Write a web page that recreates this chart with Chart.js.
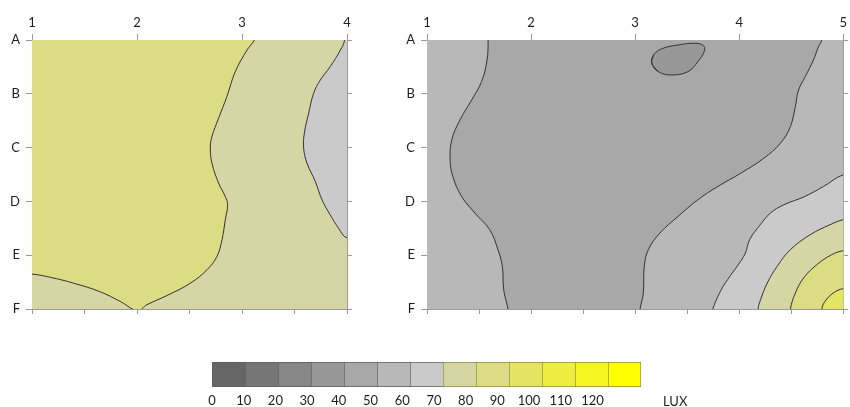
<!DOCTYPE html>
<html>
<head>
<meta charset="utf-8">
<script src="https://cdn.jsdelivr.net/npm/chart.js@4.4.1/dist/chart.umd.min.js"></script>
<style>
  body { margin: 0; background: #fff; width: 850px; height: 407px; position: relative; overflow: hidden; font-family: Lato, sans-serif; }
  canvas { position: absolute; }
  #leftChart { left: 0; top: 0; }
  #rightChart { left: 400px; top: 0; }
  #scaleChart { left: 190px; top: 350px; }
  #lux { position: absolute; left: 663px; top: 393px; font-size: 13px; color: #1e1e1e; }
</style>
</head>
<body>
<canvas id="leftChart" width="360" height="330"></canvas>
<canvas id="rightChart" width="450" height="330"></canvas>
<canvas id="scaleChart" width="520" height="57"></canvas>
<div id="lux">LUX</div>
<script>
// grid labels
const rowLabels = ['A', 'B', 'C', 'D', 'E', 'F'];
const leftCols = [1, 2, 3, 4];
const rightCols = [1, 2, 3, 4, 5];

// colour scale (lux)
const luxLevels = [0, 10, 20, 30, 40, 50, 60, 70, 80, 90, 100, 110, 120];
const luxColors = ['#666666', '#767676', '#878787', '#989898', '#a8a8a8', '#b8b8b8', '#cacaca',
                   '#d5d6a4', '#dcdc84', '#e4e463', '#eded42', '#f5f522', '#ffff00'];

// contour areas: [column, row] with row 0 = A ... 5 = F
// left room, base level 70
const leftBase = 70;
const left80 = [[3.17, -0.3], [3.117, 0], [3.048, 0.186], [2.936, 0.588], [2.856, 1.052], [2.777, 1.454],
  [2.714, 1.795], [2.698, 2.01], [2.714, 2.29], [2.777, 2.66], [2.841, 2.91], [2.863, 3.06], [2.841, 3.34],
  [2.81, 3.71], [2.762, 4.02], [2.667, 4.27], [2.508, 4.52], [2.285, 4.75], [2.095, 4.92], [2.006, 5.03],
  [1.841, 4.86], [1.65, 4.68], [1.396, 4.52], [1.174, 4.41], [1.0, 4.35], [0.7, 4.3], [0.7, -0.3]];
const left60 = [[3.96, -0.3], [3.976, 0], [3.937, 0.186], [3.84, 0.495], [3.746, 0.743], [3.682, 0.99],
  [3.635, 1.36], [3.594, 1.73], [3.587, 2.01], [3.619, 2.29], [3.698, 2.63], [3.762, 2.97], [3.84, 3.25],
  [3.92, 3.5], [4.0, 3.68], [4.3, 3.8], [4.3, -0.3]];

// right room, base level 50
const rightBase = 50;
const right40 = [[1.58, -0.3], [1.587, 0], [1.577, 0.371], [1.524, 0.774], [1.429, 1.114], [1.317, 1.485],
  [1.238, 1.856], [1.222, 2.228], [1.248, 2.537], [1.333, 2.909], [1.46, 3.217], [1.603, 3.527],
  [1.682, 3.898], [1.724, 4.208], [1.737, 4.641], [1.778, 5.0], [1.8, 5.3], [3.04, 5.3], [3.048, 5.0],
  [3.079, 4.703], [3.088, 4.208], [3.127, 3.898], [3.238, 3.589], [3.412, 3.28], [3.603, 2.97],
  [3.794, 2.723], [4.016, 2.475], [4.238, 2.196], [4.397, 1.918], [4.492, 1.609], [4.54, 1.238],
  [4.571, 0.928], [4.635, 0.681], [4.714, 0.371], [4.762, 0.124], [4.794, 0], [4.82, -0.3]];
// closed island: first and last points repeat so the outline is smooth all round
const right30 = [[3.222, 0.588], [3.16, 0.43], [3.18, 0.27], [3.26, 0.16], [3.412, 0.093], [3.571, 0.061],
  [3.655, 0.1], [3.667, 0.199], [3.603, 0.403], [3.508, 0.588], [3.349, 0.65], [3.222, 0.588],
  [3.16, 0.43], [3.18, 0.27]];
const right60 = [[5.3, 2.4], [5.0, 2.506], [4.81, 2.723], [4.63, 2.909], [4.43, 3.063], [4.3, 3.217],
  [4.19, 3.465], [4.1, 3.713], [4.06, 3.96], [3.99, 4.18], [3.89, 4.45], [3.82, 4.67], [3.746, 5.0],
  [3.7, 5.3], [5.3, 5.3]];
const right70 = [[5.3, 3.25], [5.0, 3.341], [4.873, 3.434], [4.682, 3.62], [4.492, 3.898], [4.365, 4.208],
  [4.27, 4.517], [4.206, 4.826], [4.181, 5.0], [4.17, 5.3], [5.3, 5.3]];
const right80 = [[5.3, 3.85], [5.0, 3.917], [4.889, 3.991], [4.746, 4.177], [4.619, 4.424], [4.54, 4.703],
  [4.492, 5.0], [4.48, 5.3], [5.3, 5.3]];
const right90 = [[5.3, 4.55], [5.0, 4.622], [4.905, 4.703], [4.825, 4.858], [4.794, 5.0], [4.78, 5.3], [5.3, 5.3]];

const AXIS = '#9a9a9a';
const TEXT = '#1e1e1e';
const tickFont = { family: 'Lato, sans-serif', size: 13 };

const luxColor = level => luxColors[luxLevels.indexOf(level)];

// paint the base level behind the contour areas
const baseFill = {
  id: 'baseFill',
  beforeDatasetsDraw(chart, args, opts) {
    const a = chart.chartArea;
    chart.ctx.save();
    chart.ctx.fillStyle = opts.color;
    chart.ctx.fillRect(a.left, a.top, a.right - a.left, a.bottom - a.top);
    chart.ctx.restore();
  }
};

function contourChart(id, cols, base, areas, yW, y2W) {
  // Chart.js paints the first dataset on top, so the list is reversed
  const datasets = areas.slice().reverse().map(a => ({
    data: a.pts.map(p => ({ x: p[0], y: p[1] })),
    fill: 'shape',
    backgroundColor: luxColor(a.level),
    borderColor: '#333',
    borderWidth: 1,
    pointRadius: 0,
    tension: 0.4,
    clip: 0
  }));
  const xMin = cols[0], xMax = cols[cols.length - 1];
  return new Chart(document.getElementById(id), {
    type: 'line',
    data: { datasets },
    options: {
      responsive: false,
      animation: false,
      layout: { padding: 0 },
      elements: { line: { capBezierPoints: false } },
      plugins: {
        legend: { display: false },
        tooltip: { enabled: false },
        baseFill: { color: luxColor(base) }
      },
      scales: {
        x: {
          type: 'linear', position: 'bottom', min: xMin, max: xMax, z: 1,
          ticks: { display: false, stepSize: 0.5 },
          grid: { drawOnChartArea: false, tickLength: 5, color: AXIS },
          border: { color: AXIS },
          afterFit: s => { s.height = 21; }
        },
        xTop: {
          type: 'linear', position: 'top', min: xMin, max: xMax, z: 1,
          ticks: { stepSize: 1, padding: 3, autoSkip: false, maxRotation: 0, font: tickFont, color: TEXT },
          grid: { drawOnChartArea: false, tickLength: 6, color: AXIS },
          border: { color: AXIS },
          afterFit: s => { s.height = 40; }
        },
        y: {
          type: 'linear', position: 'left', reverse: true, min: 0, max: 5, z: 1,
          ticks: { stepSize: 1, padding: 6, font: tickFont, color: TEXT, callback: v => rowLabels[v] },
          grid: { drawOnChartArea: false, tickLength: 6, color: AXIS },
          border: { color: AXIS },
          afterFit: s => { s.width = yW; }
        },
        yRight: {
          type: 'linear', position: 'right', reverse: true, min: 0, max: 5, z: 1,
          ticks: { display: false, stepSize: 1 },
          grid: { drawOnChartArea: false, tickLength: 5, color: AXIS },
          border: { color: AXIS },
          afterFit: s => { s.width = y2W; }
        }
      }
    },
    plugins: [baseFill]
  });
}

contourChart('leftChart', leftCols, leftBase, [
  { level: 80, pts: left80 },
  { level: 60, pts: left60 }
], 32, 13);

contourChart('rightChart', rightCols, rightBase, [
  { level: 40, pts: right40 },
  { level: 30, pts: right30 },
  { level: 60, pts: right60 },
  { level: 70, pts: right70 },
  { level: 80, pts: right80 },
  { level: 90, pts: right90 }
], 27, 4);

// colour scale bar
new Chart(document.getElementById('scaleChart'), {
  type: 'bar',
  data: {
    labels: [''],
    datasets: luxLevels.map((lv, i) => ({
      data: [10],
      backgroundColor: luxColors[i],
      borderColor: i < 7 ? '#5e5e5e' : '#8f8f3a',
      borderWidth: { top: 1, bottom: 1, left: 1, right: i === luxLevels.length - 1 ? 1 : 0 },
      borderSkipped: false,
      barPercentage: 1,
      categoryPercentage: 1,
      xAxisID: 'x',
      yAxisID: 'y'
    }))
  },
  options: {
    indexAxis: 'y',
    responsive: false,
    animation: false,
    layout: { padding: { left: 22, right: 69, top: 12, bottom: 0 } },
    plugins: { legend: { display: false }, tooltip: { enabled: false } },
    scales: {
      x: { display: false, stacked: true, min: 0, max: 130 },
      y: { display: false, stacked: true },
      xLab: {
        type: 'linear', position: 'bottom', min: 0, max: 135.3,
        ticks: {
          stepSize: 10, padding: 6, autoSkip: false, maxRotation: 0, font: tickFont, color: TEXT,
          callback: v => luxLevels.includes(v) ? v : ''
        },
        grid: { display: false, drawTicks: false },
        border: { display: false },
        afterFit: s => { s.height = 20; }
      }
    }
  }
});
</script>
</body>
</html>
